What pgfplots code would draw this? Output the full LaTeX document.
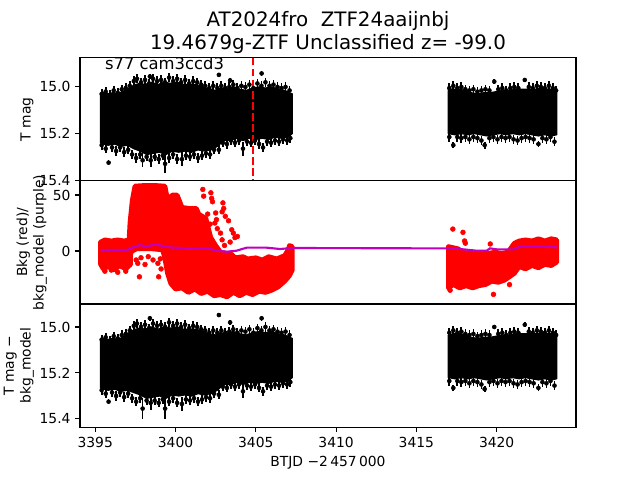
\documentclass[border=0pt]{standalone}
\usepackage{pgfplots}
\usepackage{pgfplotstable}
\pgfplotsset{compat=1.18}
\usepackage{fontspec}
\setmainfont{DejaVu Sans}
\definecolor{mplpurple}{rgb}{0.75,0,0.75}
\pgfplotsset{
 panel/.style={scale only axis, width=372pt, height=92.4pt, xmin=3394.05, xmax=3424.94,
   axis line style={line width=0.8pt}, tick align=outside, major tick length=3.6pt,
   every tick/.style={black, line width=0.8pt}, ytick pos=left, xtick pos=bottom,
   tick label style={font=\fontsize{10.4}{12}\selectfont},
   /pgf/number format/assume math mode=true, axis on top, scaled ticks=false},
 body/.style={fill=black, draw=black, line width=1pt, line join=round},
 spikes/.style={black, only marks, mark=*, mark size=1.5pt,
   error bars/.cd, y dir=both, y explicit, error mark=none, error bar style={line width=1.3pt, black}},
 redbody/.style={fill=red, draw=red, line width=3.5pt, line join=round, line cap=round},
 reddots/.style={red, only marks, mark=*, mark size=1.8pt},
}
% individual points with error bars at the edges of the dense bands
% t, value in panel 1 (T mag) and its error, value in panel 3 (T mag - bkg_model) and its error
\pgfplotstableread{
t c1 e1 c3 e3
3395.40 15.030 0.02 15.055 0.02
3395.65 15.020 0.02 15.045 0.02
3395.90 15.035 0.02 15.060 0.02
3396.15 15.015 0.02 15.040 0.02
3396.40 15.025 0.02 15.050 0.02
3396.65 15.010 0.02 15.035 0.02
3396.90 15.005 0.02 15.030 0.02
3397.15 14.995 0.02 15.015 0.02
3397.40 14.975 0.02 14.995 0.02
3397.60 14.965 0.02 14.985 0.02
3397.85 14.980 0.02 15.000 0.02
3398.10 14.970 0.02 14.990 0.02
3398.35 14.985 0.02 15.005 0.02
3398.40 14.955 0.01 14.962 0.01
3398.60 14.965 0.02 14.985 0.02
3398.85 14.975 0.02 14.995 0.02
3399.10 14.970 0.02 14.990 0.02
3399.35 14.980 0.02 15.000 0.02
3399.60 14.960 0.02 14.980 0.02
3399.85 14.975 0.02 14.995 0.02
3400.10 14.965 0.02 14.985 0.02
3400.35 14.980 0.02 15.000 0.02
3400.60 14.970 0.02 14.990 0.02
3400.85 14.985 0.02 15.005 0.02
3401.10 14.975 0.02 14.995 0.02
3401.35 14.980 0.02 15.000 0.02
3401.60 14.990 0.02 15.010 0.02
3401.85 14.995 0.02 15.015 0.02
3402.10 15.005 0.02 15.025 0.02
3402.35 14.995 0.02 15.015 0.02
3402.60 15.005 0.02 15.025 0.02
3402.70 14.948 0.01 14.948 0.01
3402.85 14.995 0.02 15.015 0.02
3403.10 15.005 0.02 15.025 0.02
3403.35 15.000 0.02 15.020 0.02
3403.40 14.972 0.01 14.980 0.01
3403.60 14.990 0.02 15.010 0.02
3403.85 15.005 0.02 15.025 0.02
3404.10 14.995 0.02 15.015 0.02
3404.35 15.000 0.02 15.020 0.02
3404.60 14.990 0.02 15.010 0.02
3404.85 15.005 0.02 15.025 0.02
3405.10 14.985 0.02 15.005 0.02
3405.35 14.995 0.02 15.015 0.02
3405.36 14.942 0.01 14.962 0.01
3405.60 14.980 0.02 15.000 0.02
3405.85 14.995 0.02 15.015 0.02
3406.10 14.990 0.02 15.010 0.02
3406.35 15.000 0.02 15.020 0.02
3406.60 15.005 0.02 15.025 0.02
3406.85 15.000 0.02 15.020 0.02
3407.10 15.015 0.02 15.035 0.02
3395.40 15.250 0.02 15.275 0.02
3395.65 15.265 0.02 15.290 0.02
3395.83 15.325 0.01 15.325 0.01
3396.05 15.260 0.02 15.285 0.02
3396.30 15.275 0.02 15.300 0.02
3396.55 15.260 0.02 15.285 0.02
3396.80 15.280 0.02 15.305 0.02
3397.05 15.270 0.02 15.290 0.02
3397.30 15.290 0.02 15.310 0.02
3397.55 15.305 0.02 15.325 0.02
3397.80 15.290 0.02 15.310 0.02
3397.95 15.315 0.03 15.355 0.045
3398.20 15.300 0.02 15.320 0.02
3398.45 15.315 0.03 15.330 0.03
3398.70 15.300 0.02 15.320 0.02
3398.95 15.310 0.02 15.330 0.02
3399.20 15.295 0.02 15.315 0.02
3399.35 15.330 0.04 15.355 0.045
3399.60 15.305 0.02 15.325 0.02
3399.85 15.290 0.02 15.310 0.02
3400.10 15.310 0.02 15.330 0.02
3400.40 15.310 0.03 15.335 0.03
3400.65 15.295 0.02 15.315 0.02
3400.90 15.300 0.02 15.320 0.02
3401.15 15.290 0.02 15.310 0.02
3401.40 15.305 0.02 15.325 0.02
3401.65 15.295 0.02 15.315 0.02
3401.90 15.285 0.02 15.305 0.02
3402.15 15.290 0.02 15.310 0.02
3402.40 15.270 0.02 15.290 0.02
3402.70 15.270 0.02 15.295 0.02
3402.95 15.240 0.02 15.260 0.02
3403.20 15.245 0.02 15.265 0.02
3403.45 15.230 0.02 15.250 0.02
3403.70 15.240 0.02 15.260 0.02
3403.95 15.230 0.02 15.250 0.02
3404.20 15.265 0.03 15.280 0.03
3404.45 15.235 0.02 15.255 0.02
3404.70 15.240 0.02 15.260 0.02
3404.95 15.230 0.02 15.250 0.02
3405.20 15.245 0.02 15.265 0.02
3405.45 15.260 0.02 15.280 0.02
3405.70 15.235 0.02 15.255 0.02
3405.95 15.240 0.02 15.260 0.02
3406.20 15.230 0.02 15.250 0.02
3406.45 15.235 0.02 15.255 0.02
3406.70 15.225 0.02 15.245 0.02
3406.95 15.230 0.02 15.250 0.02
3407.15 15.220 0.02 15.240 0.02
3417.05 15.005 0.02 15.025 0.02
3417.30 14.995 0.02 15.015 0.02
3417.55 15.005 0.02 15.025 0.02
3417.80 15.000 0.02 15.020 0.02
3418.05 15.010 0.02 15.030 0.02
3418.30 15.015 0.02 15.035 0.02
3418.55 15.010 0.02 15.030 0.02
3418.80 15.020 0.02 15.040 0.02
3419.05 15.015 0.02 15.035 0.02
3419.30 15.010 0.02 15.030 0.02
3419.55 15.015 0.02 15.035 0.02
3419.85 14.977 0.01 15.000 0.01
3420.10 15.010 0.02 15.030 0.02
3420.35 15.005 0.02 15.025 0.02
3420.60 15.015 0.02 15.035 0.02
3420.85 15.005 0.02 15.025 0.02
3421.10 15.000 0.02 15.020 0.02
3421.35 15.005 0.02 15.025 0.02
3421.75 14.970 0.01 14.990 0.01
3422.00 15.000 0.02 15.020 0.02
3422.25 15.005 0.02 15.025 0.02
3422.50 14.995 0.02 15.015 0.02
3422.75 15.000 0.02 15.020 0.02
3423.00 15.005 0.02 15.025 0.02
3423.25 14.995 0.02 15.015 0.02
3423.50 15.005 0.02 15.025 0.02
3423.70 15.015 0.02 15.035 0.02
3417.05 15.215 0.02 15.235 0.02
3417.30 15.250 0.012 15.265 0.012
3417.55 15.215 0.02 15.235 0.02
3417.80 15.220 0.02 15.240 0.02
3418.05 15.215 0.02 15.235 0.02
3418.30 15.225 0.02 15.245 0.02
3418.55 15.215 0.02 15.235 0.02
3418.80 15.220 0.02 15.240 0.02
3419.05 15.230 0.02 15.250 0.02
3419.25 15.250 0.015 15.270 0.015
3419.55 15.220 0.02 15.240 0.02
3419.80 15.215 0.02 15.235 0.02
3420.05 15.225 0.02 15.245 0.02
3420.30 15.215 0.02 15.235 0.02
3420.55 15.220 0.02 15.240 0.02
3420.80 15.215 0.02 15.235 0.02
3421.05 15.225 0.02 15.245 0.02
3421.30 15.230 0.02 15.250 0.02
3421.55 15.220 0.02 15.240 0.02
3421.80 15.215 0.02 15.235 0.02
3422.05 15.220 0.02 15.240 0.02
3422.30 15.225 0.02 15.245 0.02
3422.60 15.245 0.015 15.265 0.015
3422.85 15.220 0.02 15.240 0.02
3423.10 15.225 0.02 15.245 0.02
3423.35 15.215 0.02 15.235 0.02
3423.60 15.235 0.02 15.255 0.02
}\spk
\begin{document}
\begin{tikzpicture}
\useasboundingbox (0,0) rectangle (480pt,360pt);
% ---------------- panel 1 ----------------
\begin{axis}[panel, at={(60pt,316.8pt)}, anchor=north west, ymin=14.874, ymax=15.403, y dir=reverse,
  ytick={15.0,15.2,15.4}, xtick=\empty, yticklabel style={/pgf/number format/.cd, fixed, fixed zerofill, precision=1}]
\addplot[body] coordinates {(3395.33,15.03) (3395.5,15.025) (3395.8,15.03) (3396.1,15.025) (3396.4,15.03) (3396.7,15.02) (3397.0,15.01) (3397.2,15.0) (3397.5,14.99) (3397.8,14.985) (3398.1,14.99) (3398.5,14.98) (3398.9,14.99) (3399.3,14.98) (3399.7,14.985) (3400.1,14.98) (3400.5,14.99) (3400.9,14.99) (3401.3,14.99) (3401.7,15.0) (3402.1,15.01) (3402.5,15.015) (3402.8,15.005) (3403.2,15.01) (3403.6,15.0) (3404.0,15.01) (3404.4,15.015) (3404.8,15.005) (3405.2,15.0) (3405.6,15.005) (3406.0,15.0) (3406.4,15.01) (3406.8,15.015) (3407.1,15.025) (3407.27,15.03)
(3407.27,15.2) (3407.0,15.215) (3406.6,15.22) (3406.2,15.215) (3405.8,15.225) (3405.4,15.22) (3405.0,15.225) (3404.6,15.22) (3404.2,15.23) (3403.8,15.22) (3403.4,15.23) (3403.0,15.23) (3402.6,15.255) (3402.2,15.27) (3401.8,15.275) (3401.4,15.27) (3401.0,15.28) (3400.6,15.275) (3400.2,15.28) (3399.8,15.275) (3399.4,15.29) (3399.0,15.28) (3398.6,15.285) (3398.2,15.29) (3397.8,15.275) (3397.4,15.265) (3397.0,15.25) (3396.6,15.255) (3396.2,15.245) (3395.8,15.25) (3395.5,15.245) (3395.33,15.24) (3395.33,15.03)};
\addplot[body] coordinates {(3416.99,15.015) (3417.3,15.01) (3417.7,15.01) (3418.0,15.015) (3418.4,15.025) (3418.8,15.03) (3419.2,15.025) (3419.6,15.025) (3420.0,15.02) (3420.4,15.015) (3420.8,15.015) (3421.2,15.01) (3421.6,15.01) (3422.0,15.01) (3422.4,15.01) (3422.8,15.005) (3423.2,15.01) (3423.5,15.01) (3423.74,15.015)
(3423.74,15.205) (3423.4,15.21) (3423.0,15.205) (3422.6,15.21) (3422.2,15.205) (3421.8,15.2) (3421.4,15.205) (3421.0,15.2) (3420.6,15.205) (3420.2,15.2) (3419.8,15.205) (3419.4,15.21) (3419.0,15.205) (3418.6,15.2) (3418.2,15.205) (3417.8,15.2) (3417.4,15.205) (3416.99,15.2) (3416.99,15.015)};
\addplot[spikes] table[x=t, y=c1, y error=e1] {\spk};
\addplot[red, line width=1.56pt, dash pattern=on 5.8pt off 2.5pt] coordinates {(3404.83,14.874) (3404.83,15.403)};
\node[anchor=base west, inner sep=0pt, font=\fontsize{12.3}{14}\selectfont] at (axis description cs:0.05,0.9) {s77 cam3ccd3};
\end{axis}
% ---------------- panel 2 ----------------
\begin{axis}[panel, at={(60pt,224.4pt)}, anchor=north west, ymin=-47.3, ymax=62.7, ytick={0,50}, xtick=\empty]
\addplot[redbody] coordinates {(3395.33,8) (3395.6,10) (3396.0,9) (3396.4,10) (3396.8,9) (3397.1,10) (3397.2,8) (3397.2,-12) (3396.9,-16) (3396.5,-13) (3396.2,-17) (3395.8,-14) (3395.5,-16) (3395.33,-12) (3395.33,8)};
\addplot[redbody] coordinates {(3397.1,9) (3397.16,25) (3397.3,45) (3397.47,58) (3398.0,58.5) (3398.8,58.5) (3399.34,58) (3399.45,50) (3399.6,47) (3399.8,50) (3400.1,50) (3400.27,44) (3400.4,39) (3400.9,38) (3401.3,38) (3401.45,33) (3401.9,29) (3402.05,20) (3402.2,12) (3402.5,5) (3402.8,-1) (3403.2,-2) (3403.5,-3) (3403.7,-6) (3404.2,-5) (3404.5,-7) (3405.0,-6) (3405.4,-8) (3405.8,-5) (3406.3,-7) (3406.8,-4) (3407.0,1) (3407.1,5) (3407.27,4)
(3407.27,-17) (3407.1,-22) (3406.8,-27) (3406.4,-32) (3406.0,-35) (3405.6,-37) (3405.2,-36) (3404.8,-39) (3404.4,-37) (3404.0,-40) (3403.6,-37) (3403.2,-41) (3402.8,-39) (3402.4,-40) (3402.0,-36) (3401.6,-38) (3401.2,-34) (3400.8,-37) (3400.4,-33) (3400.0,-34) (3399.7,-29) (3399.5,-20) (3399.35,-8) (3399.2,1) (3398.5,2) (3397.6,2) (3397.3,0) (3397.1,-5) (3397.1,9)};
\addplot[redbody] coordinates {(3416.99,4) (3417.3,3) (3417.6,2) (3417.9,-1) (3418.3,-2) (3418.7,-2) (3419.1,-3) (3419.5,-2) (3419.9,-1) (3420.3,-2) (3420.7,-1) (3420.9,3) (3421.1,7) (3421.4,9) (3421.8,10) (3422.2,9) (3422.6,11) (3423.0,9) (3423.4,11) (3423.74,10)
(3423.74,-10) (3423.4,-13) (3423.0,-12) (3422.6,-15) (3422.2,-13) (3421.8,-16) (3421.4,-14) (3421.1,-20) (3420.8,-23) (3420.5,-26) (3420.1,-28) (3419.7,-27) (3419.3,-30) (3418.9,-31) (3418.5,-33) (3418.1,-31) (3417.7,-33) (3417.3,-30) (3416.99,-33) (3416.99,4)};
\addplot[reddots] coordinates {(3397.55,-8) (3397.65,-11) (3397.75,-23) (3397.85,-6) (3398.1,-12) (3398.3,-5) (3398.9,-11) (3398.95,-23) (3399.05,-7) (3399.1,-16) (3398.6,-8)
(3395.6,-18) (3396.4,-19) (3396.9,-18) (3396.0,-17)
(3401.7,55) (3401.75,49) (3402.2,52) (3402.3,44) (3402.25,47) (3402.95,43) (3403.0,38) (3402.9,35) (3403.1,31) (3403.3,27) (3402.5,34) (3402.55,28) (3402.45,25) (3403.6,16) (3403.7,12) (3403.85,13) (3403.5,19) (3402.0,33) (3402.15,24) (3402.8,16) (3402.9,10) (3403.05,5) (3403.4,8) (3402.6,20)
(3417.27,19.6) (3417.9,16.7) (3418.0,9) (3418.05,7) (3419.6,6.3) (3419.8,-38.7) (3420.8,-30) (3417.1,-35)};
\addplot[mplpurple, line width=1.6pt] coordinates {(3395.33,0.9) (3397.0,0.9) (3397.16,2.4) (3397.8,5.4) (3398.2,3.9) (3398.7,6) (3399.1,4.8) (3399.65,3.3) (3400.27,2.7) (3401.31,1.8) (3401.93,2.7) (3402.55,0.3) (3403.18,-0.6) (3403.8,0.3) (3404.43,3) (3405.67,3) (3406.5,1.8) (3407.27,2.7) (3415.22,2.4) (3417.3,2.4) (3417.92,1.5) (3418.75,0.3) (3419.38,0.3) (3419.58,2.4) (3420.0,1.5) (3421.04,1.5) (3421.45,3.9) (3422.49,4.5) (3423.11,3.9) (3423.74,3.3)};
\end{axis}
% ---------------- panel 3 ----------------
\begin{axis}[panel, at={(60pt,132pt)}, anchor=north west, ymin=14.9, ymax=15.436, y dir=reverse,
  ytick={15.0,15.2,15.4}, xtick={3395,3400,3405,3410,3415,3420},
  yticklabel style={/pgf/number format/.cd, fixed, fixed zerofill, precision=1},
  xticklabel style={/pgf/number format/.cd, fixed, 1000 sep={}}]
\addplot[body] coordinates {(3395.33,15.055) (3395.5,15.05) (3395.8,15.055) (3396.1,15.05) (3396.4,15.055) (3396.7,15.045) (3397.0,15.03) (3397.2,15.02) (3397.5,15.01) (3397.8,15.005) (3398.1,15.01) (3398.5,15.0) (3398.9,15.01) (3399.3,15.0) (3399.7,15.005) (3400.1,15.0) (3400.5,15.01) (3400.9,15.01) (3401.3,15.01) (3401.7,15.02) (3402.1,15.03) (3402.5,15.035) (3402.8,15.025) (3403.2,15.03) (3403.6,15.02) (3404.0,15.03) (3404.4,15.035) (3404.8,15.025) (3405.2,15.02) (3405.6,15.025) (3406.0,15.02) (3406.4,15.03) (3406.8,15.035) (3407.1,15.045) (3407.27,15.05)
(3407.27,15.22) (3407.0,15.235) (3406.6,15.24) (3406.2,15.235) (3405.8,15.245) (3405.4,15.24) (3405.0,15.245) (3404.6,15.24) (3404.2,15.25) (3403.8,15.24) (3403.4,15.25) (3403.0,15.25) (3402.6,15.275) (3402.2,15.29) (3401.8,15.295) (3401.4,15.29) (3401.0,15.3) (3400.6,15.295) (3400.2,15.3) (3399.8,15.295) (3399.4,15.31) (3399.0,15.3) (3398.6,15.305) (3398.2,15.31) (3397.8,15.295) (3397.4,15.285) (3397.0,15.275) (3396.6,15.28) (3396.2,15.27) (3395.8,15.275) (3395.5,15.27) (3395.33,15.265) (3395.33,15.055)};
\addplot[body] coordinates {(3416.99,15.035) (3417.3,15.03) (3417.7,15.03) (3418.0,15.035) (3418.4,15.045) (3418.8,15.05) (3419.2,15.045) (3419.6,15.045) (3420.0,15.04) (3420.4,15.035) (3420.8,15.035) (3421.2,15.03) (3421.6,15.03) (3422.0,15.03) (3422.4,15.03) (3422.8,15.025) (3423.2,15.03) (3423.5,15.03) (3423.74,15.035)
(3423.74,15.225) (3423.4,15.23) (3423.0,15.225) (3422.6,15.23) (3422.2,15.225) (3421.8,15.22) (3421.4,15.225) (3421.0,15.22) (3420.6,15.225) (3420.2,15.22) (3419.8,15.225) (3419.4,15.23) (3419.0,15.225) (3418.6,15.22) (3418.2,15.225) (3417.8,15.22) (3417.4,15.225) (3416.99,15.22) (3416.99,15.035)};
\addplot[spikes] table[x=t, y=c3, y error=e3] {\spk};
\end{axis}
% ---------------- labels ----------------
\node[anchor=base, font=\fontsize{14.9}{17}\selectfont] at (246pt,340pt) {AT2024fro\ \ ZTF24aaijnbj};
\node[anchor=base, font=\fontsize{14.9}{17}\selectfont] at (246pt,323pt) {19.4679g-ZTF Unclassified z= -99.0};
\node[anchor=base, rotate=90, font=\fontsize{10.4}{12}\selectfont] at (22.9pt,270.6pt) {T mag};
\node[anchor=base, rotate=90, font=\fontsize{10.4}{12}\selectfont] at (20.3pt,178.2pt) {Bkg (red)/};
\node[anchor=base, rotate=90, font=\fontsize{10.4}{12}\selectfont] at (32.8pt,178.2pt) {bkg\_model (purple)};
\node[anchor=base, rotate=90, font=\fontsize{10.4}{12}\selectfont] at (10.4pt,85.8pt) {T mag −};
\node[anchor=base, rotate=90, font=\fontsize{10.4}{12}\selectfont] at (22.9pt,85.8pt) {bkg\_model};
\node[anchor=base, font=\fontsize{10.4}{12}\selectfont] at (246pt,10.5pt) {BTJD −2\,457\,000};
\end{tikzpicture}
\end{document}
